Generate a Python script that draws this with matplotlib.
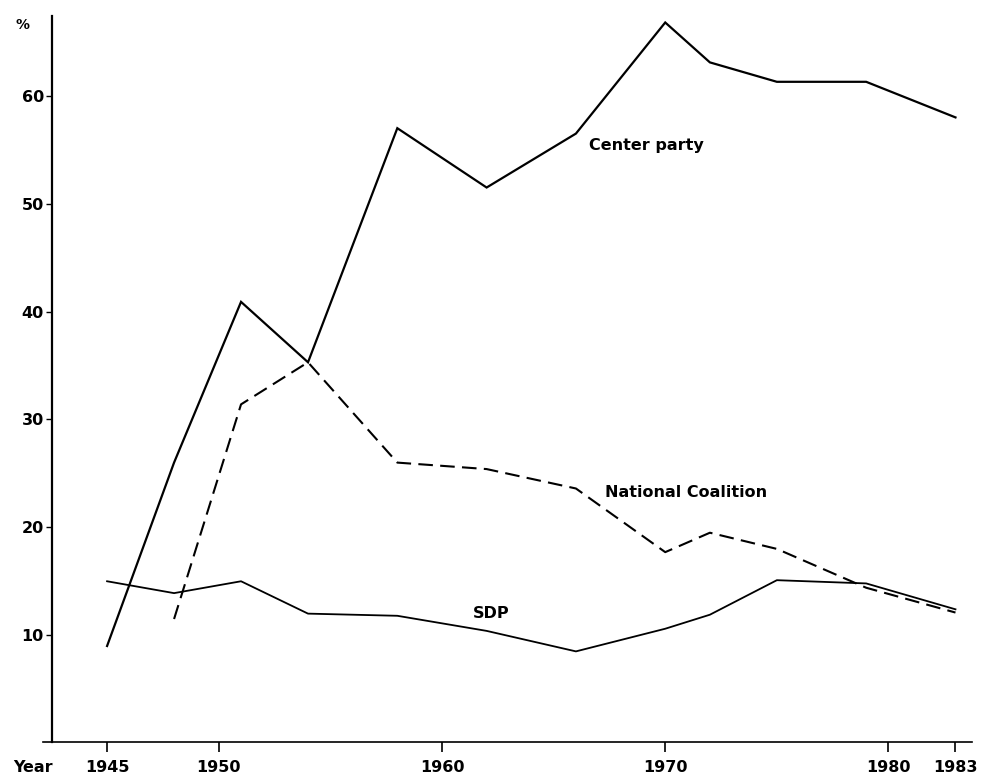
import numpy as np
import matplotlib.pyplot as plt

# Election years and party shares (%)
years = [1945, 1948, 1951, 1954, 1958, 1962, 1966, 1970, 1972, 1975, 1979, 1983]
center = [9.0, 26.0, 40.9, 35.3, 57.0, 51.5, 56.5, 66.8, 63.1, 61.3, 61.3, 58.0]
nc_years = [1948, 1951, 1954, 1958, 1962, 1966, 1970, 1972, 1975, 1979, 1983]
nat_coal = [11.5, 31.4, 35.3, 26.0, 25.4, 23.6, 17.7, 19.5, 18.0, 14.4, 12.1]
sdp = [15.0, 13.9, 15.0, 12.0, 11.8, 10.4, 8.5, 10.6, 11.9, 15.1, 14.8, 12.4]

xticks = [1945, 1950, 1960, 1970, 1980, 1983]
yticks = [10, 20, 30, 40, 50, 60]

fig = plt.figure(figsize=(9.81, 7.74), dpi=100)
ax = fig.add_axes([43 / 981, 32 / 774, 929 / 981, 726 / 774])

ax.plot(years, center, color='black', lw=1.6, solid_joinstyle='miter')
ax.plot(nc_years, nat_coal, color='black', lw=1.5, dashes=(7, 3.5))
ax.plot(years, sdp, color='black', lw=1.3)

ax.set_xlim(1942.13, 1983.74)
ax.set_ylim(0.1, 67.4)

# axes styling
for s in ['top', 'right']:
    ax.spines[s].set_visible(False)
ax.spines['left'].set_position(('data', 1942.54))
ax.spines['left'].set_linewidth(1.6)
ax.spines['bottom'].set_linewidth(1.2)

ax.set_xticks(xticks)
ax.set_xticklabels([str(x) for x in xticks], fontsize=11.5, fontweight='bold')
ax.set_yticks(yticks)
ax.set_yticklabels([str(y) for y in yticks], fontsize=11.5, fontweight='bold')
ax.tick_params(axis='x', direction='out', length=7, width=1.2, pad=6)
ax.tick_params(axis='y', direction='out', length=4, width=1.0, pad=2)

# line labels
ax.text(1966.6, 55.4, 'Center party', fontsize=11.5, fontweight='bold',
        va='center', ha='left')
ax.text(1967.3, 23.2, 'National Coalition', fontsize=11.5, fontweight='bold',
        va='center', ha='left')
ax.text(1961.4, 12.0, 'SDP', fontsize=11.5, fontweight='bold',
        va='center', ha='left')

fig.text(33 / 981, 1 - 767 / 774, 'Year', fontsize=11.5, fontweight='bold',
         ha='center', va='center')
fig.text(23 / 981, 1 - 25 / 774, '%', fontsize=10, fontweight='bold',
         ha='center', va='center')

fig.savefig('out.png', dpi=100)
